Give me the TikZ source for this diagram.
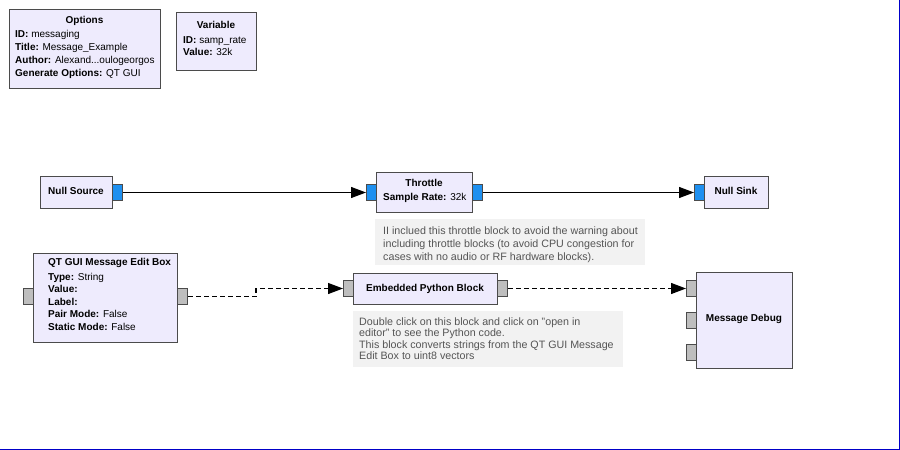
\documentclass[tikz,border=0pt]{standalone}
\usepackage{fontspec}
\setmainfont{Liberation Sans}
\usetikzlibrary{arrows.meta}
\definecolor{blockfill}{RGB}{238,235,253}
\definecolor{edgecol}{RGB}{75,75,75}
\definecolor{portblue}{RGB}{30,144,240}
\definecolor{portgray}{RGB}{190,190,190}
\definecolor{notefill}{RGB}{242,242,242}
\definecolor{notetext}{RGB}{85,85,85}
\definecolor{framecol}{RGB}{0,0,200}
\begin{document}
\begin{tikzpicture}[x=1pt,y=-1pt,
  block/.style={draw=edgecol, fill=blockfill, line width=1pt, rectangle, inner sep=0pt, anchor=north west},
  bport/.style={draw=edgecol, fill=portblue, line width=1pt, rectangle, inner sep=0pt, minimum width=10pt, minimum height=16pt, anchor=north west},
  gport/.style={bport, fill=portgray},
  notebox/.style={fill=notefill, rectangle, inner sep=0pt, anchor=north west},
  lab/.style={font=\fontsize{10}{12}\selectfont, inner sep=0pt, anchor=base west},
  ttl/.style={font=\bfseries\fontsize{10}{12}\selectfont, inner sep=0pt, anchor=base},
  ntxt/.style={font=\fontsize{10.7}{12}\selectfont, inner sep=0pt, anchor=base west, text=notetext},
  flow/.style={draw=black, line width=1.2pt, -{Triangle[length=15pt,width=11pt]}},
  msg/.style={flow, dash pattern=on 5pt off 3pt},
]
\useasboundingbox (0,0) rectangle (900,450);

% Options
\node[block, minimum width=151pt, minimum height=79pt] (opt) at (9,9) {};
\node[ttl] (optt) at (84.5,23.5) {Options};
\node[lab] (opt1) at (15,37.5) {\textbf{ID:} messaging};
\node[lab] (opt2) at (15,50.5) {\textbf{Title:} Message\_Example};
\node[lab] (opt3) at (15,63.5) {\textbf{Author:} Alexand...oulogeorgos};
\node[lab] (opt4) at (15,76.5) {\textbf{Generate Options:} QT GUI};

% Variable
\node[block, minimum width=80pt, minimum height=58pt] (var) at (176,12) {};
\node[ttl] (vart) at (216,28.5) {Variable};
\node[lab] (var1) at (183,43.5) {\textbf{ID:} samp\_rate};
\node[lab] (var2) at (183,55.8) {\textbf{Value:} 32k};

% Null Source
\node[block, minimum width=72pt, minimum height=32pt] (nsrc) at (40,176) {};
\node[bport] (nsrcout) at (112,184) {};
\node[ttl] (nsrct) at (76,194.5) {Null Source};

% Throttle
\node[block, minimum width=96pt, minimum height=40pt] (thr) at (376,172) {};
\node[bport] (thrin) at (366,184) {};
\node[bport] (throut) at (472,184) {};
\node[ttl] (thrt) at (424,186.5) {Throttle};
\node[lab] (thr1) at (383,200.8) {\textbf{Sample Rate:} 32k};

% Null Sink
\node[block, minimum width=64pt, minimum height=32pt] (nsink) at (704,176) {};
\node[bport] (nsinkin) at (694,184) {};
\node[ttl] (nsinkt) at (736,194.5) {Null Sink};

% Note 1
\node[notebox, minimum width=270pt, minimum height=46pt] (note1) at (375,219) {};
\node[ntxt] (n1a) at (383,234.5) {II inclued this throttle block to avoid the warning about};
\node[ntxt] (n1b) at (383,247.5) {including throttle blocks (to avoid CPU congestion for};
\node[ntxt] (n1c) at (383,260.5) {cases with no audio or RF hardware blocks).};

% QT GUI Message Edit Box
\node[block, minimum width=144pt, minimum height=89pt] (qt) at (33,253) {};
\node[gport] (qtin) at (23,288) {};
\node[gport] (qtout) at (177,288) {};
\node[lab, font=\bfseries\fontsize{10}{12}\selectfont] (qtt) at (48,265.5) {QT GUI Message Edit Box};
\node[lab] (qt1) at (48,280) {\textbf{Type:} String};
\node[lab] (qt2) at (48,292.5) {\textbf{Value:}};
\node[lab] (qt3) at (48,305) {\textbf{Label:}};
\node[lab] (qt4) at (48,317.5) {\textbf{Pair Mode:} False};
\node[lab] (qt5) at (48,330) {\textbf{Static Mode:} False};

% Embedded Python Block
\node[block, minimum width=144pt, minimum height=31pt] (py) at (353,273) {};
\node[gport] (pyin) at (343,280) {};
\node[gport] (pyout) at (497,280) {};
\node[ttl] (pyt) at (425,291.5) {Embedded Python Block};

% Note 2
\node[notebox, minimum width=270pt, minimum height=56pt] (note2) at (353,311) {};
\node[ntxt] (n2a) at (359,325) {Double click on this block and click on "open in};
\node[ntxt] (n2b) at (359,336.5) {editor" to see the Python code.};
\node[ntxt] (n2c) at (359,348) {This block converts strings from the QT GUI Message};
\node[ntxt] (n2d) at (359,359.5) {Edit Box to uint8 vectors};

% Message Debug
\node[block, minimum width=96pt, minimum height=96pt] (dbg) at (696,272) {};
\node[gport] (dbgin1) at (686,280) {};
\node[gport] (dbgin2) at (686,312) {};
\node[gport] (dbgin3) at (686,344) {};
\node[ttl] (dbgt) at (744,321.5) {Message Debug};

% Connections
\draw[flow] (nsrcout.east) -- (thrin.west);
\draw[flow] (throut.east) -- (nsinkin.west);
\coordinate (bend) at (256,296);
\draw[msg] (qtout.east) -- (qtout.east -| bend) -- (pyin.west -| bend) -- (pyin.west);
\draw[msg] (pyout.east) -- (dbgin1.west);

% Frame
\draw[framecol, line width=1pt] (0,449.5) -- (899.5,449.5) -- (899.5,0);
\end{tikzpicture}
\end{document}
